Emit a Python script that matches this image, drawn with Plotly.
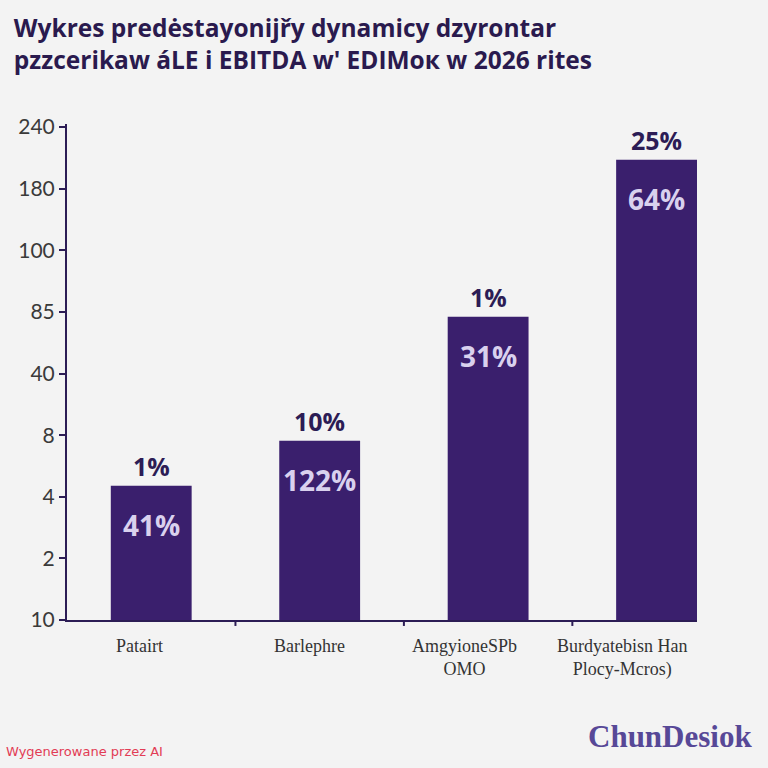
import plotly.graph_objects as go

# ── Data ──────────────────────────────────────────────────────────────────────

categories = ["Patairt", "Barlephre", "AmgyioneSPb<br>OMO", "Burdyatebisn Han<br>Plocy-Mcros)"]
# bar heights, read in axis steps (the scale labels below are evenly spaced)
heights = [2.18, 2.91, 4.92, 7.47]
top_labels = ["1%", "10%", "1%", "25%"]
inner_labels = ["41%", "122%", "31%", "64%"]

tick_text = ["10", "2", "4", "8", "40", "85", "100", "180", "240"]

BAR = "#3a1f6d"
DARK = "#2c1c55"
LIGHT = "#d9d1ee"

# category labels sit a little left of their bars in the original
label_shift = [-12, -10, -24, -35]

fig = go.Figure(go.Bar(
    x=list(range(len(categories))),
    y=heights,
    width=0.48,
    marker=dict(color=BAR, line=dict(width=0)),
    hoverinfo="skip",
))

for i, h in enumerate(heights):
    fig.add_annotation(x=i, y=h, text=f"<b>{top_labels[i]}</b>", showarrow=False,
                       yshift=20, font=dict(family="Open Sans", size=25, color=DARK))
    fig.add_annotation(x=i, y=h, text=f"<b>{inner_labels[i]}</b>", showarrow=False,
                       yshift=-39, font=dict(family="Open Sans", size=28, color=LIGHT))
    fig.add_annotation(x=i, xref="x", y=0, yref="paper", text=categories[i],
                       showarrow=False, yanchor="top", yshift=-14, xshift=label_shift[i],
                       font=dict(family="Liberation Serif", size=18, color="#333333"))

fig.update_layout(
    width=768,
    height=768,
    paper_bgcolor="#f3f3f3",
    plot_bgcolor="#f3f3f3",
    margin=dict(l=67, r=71, t=124, b=148),
    showlegend=False,
    title=dict(
        text="Wykres predėstayonijřy dynamicy dzyrontar<br>pzzcerikaw áLE i EBITDA w' EDIMoк w 2026 rites",
        x=0.018, xanchor="left", y=0.952, yanchor="top",
        font=dict(family="Open Sans", size=24.5, color="#2a1a4e", weight="bold"),
    ),
    xaxis=dict(
        tickvals=list(range(len(categories))),
        showticklabels=False,
        range=[-0.5, 3.24],
        showline=True, linecolor=DARK, linewidth=2,
        ticks="", showgrid=False, zeroline=False,
    ),
    yaxis=dict(
        tickvals=list(range(len(tick_text))),
        ticktext=tick_text,
        range=[0, 8.05],
        showline=True, linecolor=DARK, linewidth=2,
        ticks="outside", ticklen=6, tickcolor=DARK, tickwidth=2,
        showgrid=False, zeroline=False,
        tickfont=dict(family="Lato", size=21, color="#3a3a3a"),
    ),
)

# boundary ticks between the categories on the x axis
for xb in [0.5, 1.5, 2.5]:
    fig.add_shape(type="line", xref="x", yref="paper", x0=xb, x1=xb, y0=0, y1=-0.012,
                  line=dict(color=DARK, width=2))

fig.add_annotation(text="ChunDesiok", xref="paper", yref="paper", x=1.09, y=-0.235,
                   xanchor="right", yanchor="middle", showarrow=False,
                   font=dict(family="Liberation Serif", size=31, color="#574897", weight="bold"))
fig.add_annotation(text="Wygenerowane przez AI", xref="paper", yref="paper", x=-0.1, y=-0.265,
                   xanchor="left", yanchor="middle", showarrow=False,
                   font=dict(family="DejaVu Sans", size=13, color="#e23c55"))

fig.write_html("out.html", config={"displayModeBar": False},
               post_script="document.body.style.margin='0';")
